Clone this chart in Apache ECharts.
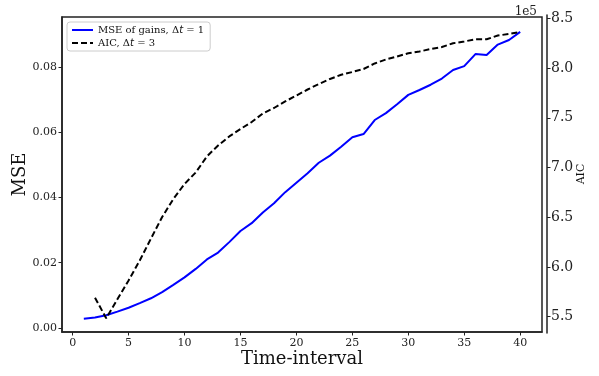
<!DOCTYPE html>
<html>
<head>
<meta charset="utf-8">
<script src="https://cdn.jsdelivr.net/npm/echarts@6/dist/echarts.min.js"></script>
<style>
html,body{margin:0;padding:0;background:#fff;}
#chart{width:599px;height:376px;}
</style>
</head>
<body>
<div id="chart"></div>
<script>
const timeMSE = [1,2,3,4,5,6,7,8,9,10,11,12,13,14,15,16,17,18,19,20,21,22,23,24,25,26,27,28,29,30,31,32,33,34,35,36,37,38,39,40];
const mseValues = [0.00285,0.0032,0.0039,0.0050,0.0062,0.0076,0.0091,0.0110,0.0132,0.0155,0.0181,0.0210,0.0231,0.0263,0.0297,0.0321,0.0354,0.0382,0.0416,0.0445,0.0474,0.0506,0.0528,0.0555,0.0584,0.0594,0.0637,0.0658,0.0685,0.0714,0.0729,0.0745,0.0764,0.0790,0.0802,0.0839,0.0836,0.0868,0.0882,0.0907];
const timeAIC = [2,3,4,5,6,7,8,9,10,11,12,13,14,15,16,17,18,19,20,21,22,23,24,25,26,27,28,29,30,31,32,33,34,35,36,37,38,39,40];
const aicValues = [569100,548400,567500,586400,606500,628600,650200,668300,683400,695000,711100,722100,731200,738700,745700,754300,759800,766400,772400,778400,783900,789000,793200,796000,799000,804600,808600,811600,814800,816600,819100,821100,824900,826700,828900,828900,832700,834200,836200];
const xTicks = [0,5,10,15,20,25,30,35,40];
const mseTicks = [0,0.02,0.04,0.06,0.08];
const aicTicks = [550000,600000,650000,700000,750000,800000,850000];
const seriesNames = ['MSE of gains, Δt = 1', 'AIC, Δt = 3'];

const FONT = 'DejaVu Serif';
const AXC = '#222';
const chart = echarts.init(document.getElementById('chart'), null, {renderer:'canvas'});
const option = {
  animation: false,
  backgroundColor: '#fff',
  title: {
    text: '1e5', right: 57, top: 1,
    textStyle: {fontFamily: FONT, fontSize: 12, fontWeight: 'normal', color: '#222'}
  },
  grid: [
    {left: 62, right: 57, top: 17, bottom: 44, show: true, borderColor: AXC, borderWidth: 1.5, backgroundColor: 'transparent', containLabel: false, outerBoundsMode: 'none'},
    {left: 62, right: 57, top: 15, bottom: 43, show: false, containLabel: false, outerBoundsMode: 'none'}
  ],
  legend: {
    orient: 'vertical', left: 67, top: 22,
    itemWidth: 21, itemHeight: 10, itemGap: 3,
    padding: [3, 6, 3, 4],
    borderColor: '#cccccc', borderWidth: 1, borderRadius: 3,
    backgroundColor: '#fff',
    data: seriesNames,
    itemStyle: {opacity: 0},
    formatter: n => n.replace('Δt', 'Δ{it|t}'),
    textStyle: {fontFamily: FONT, fontSize: 10, color: '#111',
      rich: {it: {fontFamily: 'DejaVu Sans', fontStyle: 'italic', fontSize: 10, color: '#111'}}}
  },
  xAxis: [
    {
      type: 'value', gridIndex: 0, min: -0.95, max: 41.95,
      name: 'Time-interval', nameLocation: 'middle', nameGap: 18, nameMoveOverlap: false,
      nameTextStyle: {fontFamily: FONT, fontSize: 18, color: '#111'},
      axisLine: {show: true, onZero: false, lineStyle: {color: AXC, width: 1.5}},
      axisTick: {show: true, inside: false, length: 3.5, customValues: xTicks, lineStyle: {color: AXC}},
      axisLabel: {customValues: xTicks, fontFamily: FONT, fontSize: 11, color: '#222', margin: 6},
      splitLine: {show: false}
    },
    {
      type: 'value', gridIndex: 1, min: -0.95, max: 41.95, show: false,
      axisLine: {onZero: false},
      splitLine: {show: false}
    }
  ],
  yAxis: [
    {
      type: 'value', gridIndex: 0, min: -0.00123, max: 0.09525,
      name: 'MSE', nameLocation: 'middle', nameGap: 33, nameRotate: 90, nameMoveOverlap: false,
      nameTextStyle: {fontFamily: FONT, fontSize: 18, color: '#111'},
      axisLine: {show: true, onZero: false, lineStyle: {color: AXC, width: 1.5}},
      axisTick: {show: true, length: 3.5, customValues: mseTicks, lineStyle: {color: AXC}},
      axisLabel: {customValues: mseTicks, formatter: v => v.toFixed(2), fontFamily: FONT, fontSize: 11, color: '#222', margin: 5},
      splitLine: {show: false}
    },
    {
      type: 'value', gridIndex: 1, position: 'right', offset: 5,
      min: 533600, max: 853300,
      name: 'AIC', nameLocation: 'middle', nameGap: 29, nameRotate: 90, nameMoveOverlap: false,
      nameTextStyle: {fontFamily: FONT, fontSize: 11, color: '#111'},
      axisLine: {show: true, onZero: false, lineStyle: {color: AXC, width: 1.5}},
      axisTick: {show: true, length: 3.5, customValues: aicTicks, lineStyle: {color: AXC}},
      axisLabel: {customValues: aicTicks, formatter: v => (v/1e5).toFixed(1), fontFamily: FONT, fontSize: 14, color: '#222', margin: 4},
      splitLine: {show: false}
    }
  ],
  series: [
    {
      name: seriesNames[0], type: 'line', xAxisIndex: 0, yAxisIndex: 0,
      symbol: 'none', lineStyle: {color: '#0000ff', width: 2}, itemStyle: {color: '#0000ff'},
      data: timeMSE.map((t, i) => [t, mseValues[i]]), z: 3
    },
    {
      name: seriesNames[1], type: 'line', xAxisIndex: 1, yAxisIndex: 1,
      symbol: 'none', lineStyle: {color: '#000', width: 2, type: [6, 3]}, itemStyle: {color: '#000'},
      data: timeAIC.map((t, i) => [t, aicValues[i]]), z: 3
    }
  ]
};
chart.setOption(option);
</script>
</body>
</html>
